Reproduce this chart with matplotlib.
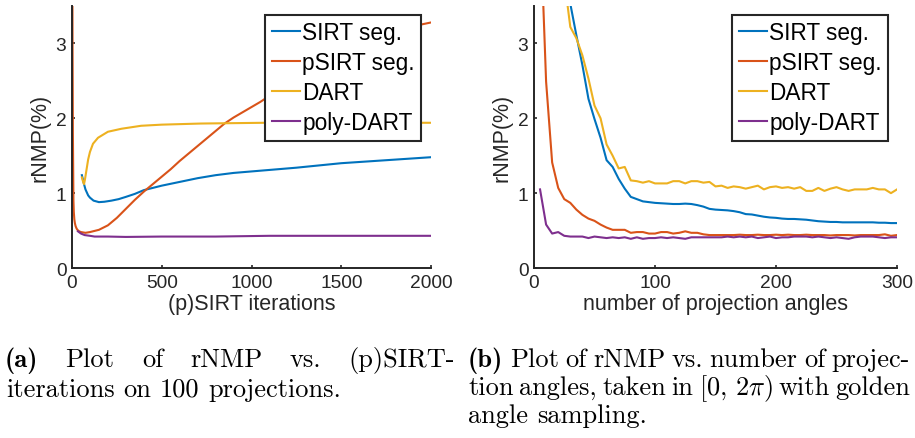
import numpy as np
import matplotlib
matplotlib.use("Agg")
import matplotlib.pyplot as plt

plt.rcParams['mathtext.fontset'] = 'cm'

# ---------------- data: left panel (iterations) ----------------
it_sirt = [55, 60, 67, 75, 90, 100, 120, 150, 180, 220, 260, 300, 350, 400, 450,
           500, 600, 700, 800, 900, 1000, 1100, 1250, 1500, 1750, 2000]
rnmp_sirt_it = [1.24, 1.19, 1.12, 1.05, 0.97, 0.94, 0.90, 0.88, 0.885, 0.90, 0.92,
                0.95, 0.99, 1.04, 1.07, 1.10, 1.15, 1.20, 1.24, 1.27, 1.29, 1.31,
                1.34, 1.40, 1.44, 1.48]

it_psirt = [1, 3, 5, 8, 10, 13, 16, 20, 25, 30, 40, 50, 75, 100, 150, 200, 250, 300,
            350, 400, 450, 500, 550, 600, 650, 700, 750, 800, 850, 900, 950, 1000,
            1050, 1100, 1200, 1300, 1400, 1500, 1600, 1700, 1800, 1900, 2000]
rnmp_psirt_it = [5.0, 3.0, 1.8, 0.9, 0.75, 0.65, 0.6, 0.56, 0.53, 0.51, 0.49, 0.48,
                 0.47, 0.48, 0.51, 0.57, 0.67, 0.79, 0.91, 1.02, 1.12, 1.22, 1.32,
                 1.43, 1.53, 1.63, 1.73, 1.83, 1.93, 2.01, 2.08, 2.15, 2.22, 2.30,
                 2.47, 2.63, 2.77, 2.89, 3.00, 3.09, 3.17, 3.23, 3.28]

it_dart = [55, 62, 67, 72, 80, 90, 100, 117, 145, 200, 275, 385, 500, 720, 1075,
           1500, 2000]
rnmp_dart_it = [1.21, 1.15, 1.12, 1.18, 1.30, 1.45, 1.55, 1.66, 1.74, 1.82, 1.86,
                1.90, 1.915, 1.93, 1.94, 1.94, 1.94]

it_poly = [33, 50, 70, 100, 126, 200, 300, 500, 800, 1100, 1500, 2000]
rnmp_poly_it = [0.49, 0.46, 0.44, 0.43, 0.42, 0.42, 0.415, 0.42, 0.42, 0.43, 0.43, 0.43]

# ---------------- data: right panel (projection angles) ----------------
angles = list(range(5, 305, 5))
rnmp_sirt_ang = [12.0, 9.0, 7.0, 5.6, 4.3, 3.53, 3.11, 2.71, 2.26, 1.99, 1.74, 1.44,
                 1.35, 1.19, 1.06, 0.95, 0.92, 0.89, 0.88, 0.87, 0.865, 0.86, 0.855,
                 0.855, 0.86, 0.855, 0.84, 0.82, 0.79, 0.78, 0.775, 0.77, 0.76, 0.745,
                 0.72, 0.715, 0.70, 0.685, 0.675, 0.67, 0.66, 0.655, 0.655, 0.65,
                 0.645, 0.635, 0.625, 0.62, 0.615, 0.615, 0.61, 0.61, 0.61, 0.61,
                 0.61, 0.61, 0.605, 0.605, 0.60, 0.60]
rnmp_psirt_ang = [4.7, 2.49, 1.41, 1.07, 0.92, 0.87, 0.78, 0.71, 0.66, 0.63, 0.58,
                  0.54, 0.51, 0.51, 0.51, 0.47, 0.48, 0.48, 0.46, 0.46, 0.48, 0.48,
                  0.46, 0.47, 0.49, 0.47, 0.47, 0.45, 0.44, 0.44, 0.44, 0.44, 0.44,
                  0.445, 0.44, 0.44, 0.445, 0.44, 0.44, 0.445, 0.44, 0.445, 0.44,
                  0.44, 0.445, 0.44, 0.44, 0.44, 0.435, 0.44, 0.44, 0.44, 0.435,
                  0.44, 0.44, 0.44, 0.44, 0.45, 0.43, 0.44]
rnmp_dart_ang = [12.0, 9.0, 7.0, 5.5, 3.86, 3.22, 3.07, 2.84, 2.53, 2.17, 2.0, 1.65,
                 1.50, 1.33, 1.35, 1.17, 1.16, 1.14, 1.16, 1.13, 1.13, 1.13, 1.16,
                 1.16, 1.13, 1.16, 1.16, 1.14, 1.15, 1.09, 1.10, 1.07, 1.09, 1.08,
                 1.06, 1.08, 1.10, 1.05, 1.08, 1.09, 1.07, 1.08, 1.06, 1.08, 1.03,
                 1.03, 1.07, 1.03, 1.06, 1.08, 1.05, 1.03, 1.05, 1.05, 1.05, 1.07,
                 1.05, 1.05, 1.00, 1.05]
rnmp_poly_ang = [1.05, 0.58, 0.46, 0.48, 0.43, 0.42, 0.42, 0.42, 0.40, 0.42, 0.41,
                 0.40, 0.41, 0.40, 0.41, 0.39, 0.41, 0.39, 0.40, 0.40, 0.41, 0.40,
                 0.41, 0.40, 0.39, 0.41, 0.41, 0.41, 0.41, 0.41, 0.41, 0.42, 0.41,
                 0.42, 0.41, 0.42, 0.40, 0.41, 0.42, 0.40, 0.41, 0.41, 0.42, 0.42,
                 0.42, 0.41, 0.42, 0.41, 0.40, 0.41, 0.40, 0.39, 0.41, 0.42, 0.42,
                 0.42, 0.41, 0.40, 0.41, 0.41]

labels = ["SIRT seg.", "pSIRT seg.", "DART", "poly-DART"]
colors = ["#0072BD", "#D95319", "#EDB120", "#7E2F8E"]

xticks_left = [0, 500, 1000, 1500, 2000]
xticks_right = [0, 100, 200, 300]
yticks = [0, 1, 2, 3]

W, H = 915, 439
fig = plt.figure(figsize=(W / 100, H / 100), dpi=100)

def px_axes(x0, y0, x1, y1):
    return fig.add_axes([x0 / W, 1 - y1 / H, (x1 - x0) / W, (y1 - y0) / H])

axL = px_axes(72, 7, 431, 269)
axR = px_axes(534, 7, 897, 269)

dark = "#262626"
sans = "Liberation Sans"

def style(ax, xlim, xticks, xlabel, legend_x):
    ax.set_xlim(*xlim)
    ax.set_ylim(0, 3.5)
    ax.set_xticks(xticks)
    ax.set_yticks(yticks)
    for s in ["top", "right"]:
        ax.spines[s].set_visible(False)
    for s in ["left", "bottom"]:
        ax.spines[s].set_linewidth(1.4)
        ax.spines[s].set_color(dark)
    ax.tick_params(direction="in", length=2.5, width=1.2, color=dark,
                   labelcolor=dark, labelsize=13.8, pad=4)
    for t in ax.get_xticklabels() + ax.get_yticklabels():
        t.set_fontfamily(sans)
    ax.set_xlabel(xlabel, fontsize=15.5, family=sans, color=dark, labelpad=2)
    ax.set_ylabel("rNMP(%)", fontsize=15.5, family=sans, color=dark, labelpad=4)
    leg = ax.legend(loc="upper right", bbox_to_anchor=(legend_x, 0.966),
                    borderaxespad=0, frameon=True, fancybox=False,
                    prop={"family": sans, "size": 16.3}, handlelength=1.25,
                    handletextpad=0.1, labelspacing=0.31, borderpad=0.28)
    fr = leg.get_frame()
    fr.set_edgecolor("#262626")
    fr.set_linewidth(1.5)
    fr.set_alpha(1)

lw = 1.5
axL.plot(it_sirt, rnmp_sirt_it, color=colors[0], lw=lw, label=labels[0])
axL.plot(it_psirt, rnmp_psirt_it, color=colors[1], lw=lw, label=labels[1])
axL.plot(it_dart, rnmp_dart_it, color=colors[2], lw=lw, label=labels[2])
axL.plot(it_poly, rnmp_poly_it, color=colors[3], lw=lw, label=labels[3])
style(axL, (0, 2000), xticks_left, "(p)SIRT iterations", 0.972)

axR.plot(angles, rnmp_sirt_ang, color=colors[0], lw=lw, label=labels[0])
axR.plot(angles, rnmp_psirt_ang, color=colors[1], lw=lw, label=labels[1])
axR.plot(angles, rnmp_dart_ang, color=colors[2], lw=lw, label=labels[2])
axR.plot(angles, rnmp_poly_ang, color=colors[3], lw=lw, label=labels[3])
style(axR, (0, 300), xticks_right, "number of projection angles", 0.975)

# ---------------- captions (serif, justified like LaTeX) ----------------
cap_size = 19.0
fig.canvas.draw()
renderer = fig.canvas.get_renderer()

def place_line(words, x0, x1, ybase, justify=True):
    arts = []
    for w, bold in words:
        fam = "cmb10" if bold else "cmr10"
        t = fig.text(0, 1 - ybase / H, w, fontsize=cap_size, family=fam,
                     va="baseline", ha="left", color="black")
        arts.append(t)
    widths = [a.get_window_extent(renderer).width for a in arts]
    if justify and len(arts) > 1:
        gap = (x1 - x0 - sum(widths)) / (len(arts) - 1)
    else:
        gap = cap_size * 100 / 72 * 0.333
    x = x0
    for a, wd in zip(arts, widths):
        a.set_x(x / W)
        x += wd + gap

def words(s, first_bold=False):
    ws = s.split(" ")
    return [(w, first_bold and i == 0) for i, w in enumerate(ws)]

place_line(words("(a) Plot of rNMP vs. (p)SIRT-", True), 5, 455, 367)
place_line(words("iterations on 100 projections."), 6, 455, 397, justify=False)

place_line(words("(b) Plot of rNMP vs. number of projec-", True), 468, 910, 367)
place_line([("tion", False), ("angles,", False), ("taken", False), ("in", False),
            (r"$[0,\,2\pi)$", False), ("with", False), ("golden", False)],
           468, 910, 395)
place_line(words("angle sampling."), 468, 910, 423, justify=False)

fig.savefig("out.png", dpi=100)
